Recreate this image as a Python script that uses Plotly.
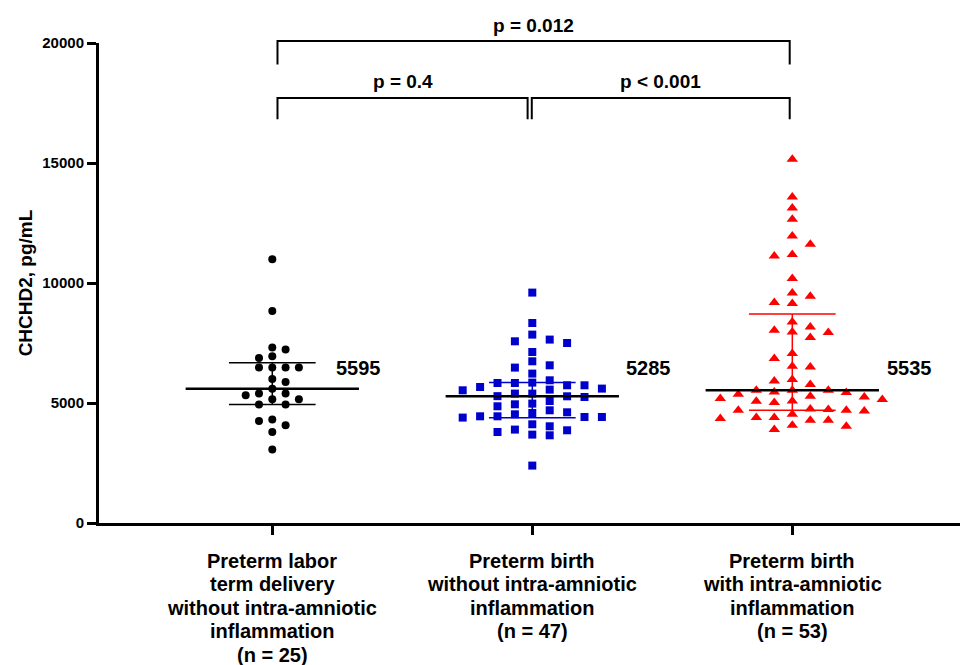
import numpy as np
import plotly.graph_objects as go

# ---------------- data ----------------
GROUP_LABELS = [
    "Preterm labor\nterm delivery\nwithout intra-amniotic\ninflammation\n(n = 25)",
    "Preterm birth\nwithout intra-amniotic\ninflammation\n(n = 47)",
    "Preterm birth\nwith intra-amniotic\ninflammation\n(n = 53)",
]

group1_values = [10988, 8833, 7308, 7225, 6946, 6875, 6475, 6475, 6475, 6475,
                 6000, 5875, 5595, 5392, 5392, 5321, 5154, 5154, 4933, 4933,
                 4308, 4250, 4071, 3792, 3058]

group2_values = [9600, 8333, 7850, 7642, 7571, 7500, 7125, 6738, 6571, 6475,
                 6225, 5946, 5850, 5833, 5833, 5738, 5738, 5667, 5600, 5558,
                 5529, 5392, 5392, 5285, 5279, 5250, 5083, 4975, 4946, 4863,
                 4696, 4613, 4583, 4529, 4446, 4446, 4417, 4417, 4392, 4113,
                 4029, 3892, 3863, 3792, 3683, 3654, 2392]

group3_values = [15154, 13583, 13125, 12654, 11958, 11613, 11183, 11125, 10183, 9583,
                 9446, 9183, 9142, 8375, 8167, 8029, 7958, 7933, 7725, 7058,
                 6850, 6529, 6500, 5975, 5917, 5767, 5535, 5535, 5535, 5458,
                 5433, 5363, 5279, 5250, 5183, 5142, 5083, 5071, 5017, 4750,
                 4725, 4696, 4696, 4667, 4529, 4392, 4392, 4350, 4279, 4279,
                 4071, 4029, 3892]

medians = [5595, 5285, 5535]
q1_values = [4933, 4390, 4700]
q3_values = [6680, 5850, 8710]
median_labels = ["5595", "5285", "5535"]

comparisons = [(0, 2), (0, 1), (1, 2)]
p_labels = ["p = 0.012", "p = 0.4", "p < 0.001"]

Y_TICKS = [0, 5000, 10000, 15000, 20000]
Y_TITLE = "CHCHD2, pg/mL"

# ---------------- layout constants ----------------
W, H = 960, 665
ML, MT, MB, MR = 99, 43, 142, 0
PLOT_H = H - MT - MB          # 480
YMAX = 20000
XR = [-0.6665, 2.645]
PX_X = (W - ML - MR) / (XR[1] - XR[0])
PX_Y = PLOT_H / YMAX

FONT = "Arial, Liberation Sans, Helvetica, sans-serif"
BLUE = "rgb(0,0,204)"
RED = "rgb(255,0,0)"


def swarm(values, col_px, min_dy_px):
    ypx = np.asarray(values, dtype=float) * PX_Y
    order = np.argsort(-ypx, kind="stable")
    cols = {}
    offs = np.zeros(len(ypx))
    for idx in order:
        y = ypx[idx]
        m = 0
        placed = False
        while not placed:
            if m == 0:
                cands = [0]
            else:
                cands = sorted([m, -m], key=lambda c: len(cols.get(c, [])))
            for c in cands:
                if all(abs(y - y2) >= min_dy_px for y2 in cols.get(c, [])):
                    cols.setdefault(c, []).append(y)
                    offs[idx] = c * col_px / PX_X
                    placed = True
                    break
            m += 1
    return offs


groups = [group1_values, group2_values, group3_values]
styles = [
    dict(symbol="circle", size=8, color="black", col=13.3, dy=8),
    dict(symbol="square", size=8, color=BLUE, col=17.4, dy=9),
    dict(symbol="triangle-up", size=10, color=RED, col=18, dy=10),
]
iqr_colors = ["black", BLUE, RED]

fig = go.Figure()

for i, (vals, st) in enumerate(zip(groups, styles)):
    xs = i + swarm(vals, st["col"], st["dy"])
    fig.add_trace(go.Scatter(
        x=xs, y=vals, mode="markers",
        marker=dict(symbol=st["symbol"], size=st["size"], color=st["color"],
                    line=dict(width=0)),
        showlegend=False, hoverinfo="y", cliponaxis=False,
    ))

for i in range(3):
    c = iqr_colors[i]
    # IQR whisker
    fig.add_trace(go.Scatter(
        x=[i - 1/6, i + 1/6, None, i - 1/6, i + 1/6, None, i, i],
        y=[q3_values[i], q3_values[i], None, q1_values[i], q1_values[i], None,
           q1_values[i], q3_values[i]],
        mode="lines", line=dict(color=c, width=1.5), showlegend=False, hoverinfo="skip",
    ))
    # median
    fig.add_trace(go.Scatter(
        x=[i - 1/3, i + 1/3], y=[medians[i], medians[i]],
        mode="lines", line=dict(color="black", width=2.5), showlegend=False, hoverinfo="skip",
    ))

# median value labels
label_dx = [0.238, 0.352, 0.358]
for i in range(3):
    fig.add_annotation(
        x=i + label_dx[i], y=6446, xref="x", yref="y", text=median_labels[i],
        showarrow=False, xanchor="left", yanchor="middle",
        font=dict(family=FONT, size=20, color="black", weight="bold"),
    )

# significance brackets (levels in data units above axis top)
bracket_levels = [(20083, 19100), (17708, 16820), (17708, 16820)]
bracket_ends = [(0.02, 1.99), (0.02, 0.982), (0.998, 1.99)]
text_levels = [20740, 18400, 18400]
for k, (a, b) in enumerate(comparisons):
    top, bot = bracket_levels[k]
    x0, x1 = bracket_ends[k]
    fig.add_shape(
        type="path", xref="x", yref="paper",
        path=f"M {x0},{bot/YMAX} L {x0},{top/YMAX} L {x1},{top/YMAX} L {x1},{bot/YMAX}",
        line=dict(color="black", width=2),
    )
    fig.add_annotation(
        x=(x0 + x1) / 2, y=text_levels[k] / YMAX, xref="x", yref="paper",
        text=p_labels[k], showarrow=False, xanchor="center", yanchor="middle",
        font=dict(family=FONT, size=19, color="black", weight="bold"),
    )

# category labels (one annotation per line for tight line spacing)
for i, lab in enumerate(GROUP_LABELS):
    for j, line in enumerate(lab.split("\n")):
        ypx = 37.5 + 23.6 * j
        fig.add_annotation(
            x=i, y=-ypx / PLOT_H, xref="x", yref="paper", text=line,
            showarrow=False, xanchor="center", yanchor="middle",
            font=dict(family=FONT, size=20, color="black", weight="bold"),
        )

fig.update_layout(
    width=W, height=H,
    margin=dict(l=ML, r=MR, t=MT, b=MB, pad=0),
    paper_bgcolor="white", plot_bgcolor="white",
    showlegend=False,
    xaxis=dict(
        range=XR, tickmode="array", tickvals=[0, 1, 2], ticktext=["", "", ""],
        showgrid=False, zeroline=False, showline=True, linecolor="black", linewidth=3,
        ticks="outside", ticklen=9, tickwidth=2.5, tickcolor="black",
        fixedrange=True,
    ),
    yaxis=dict(
        range=[0, YMAX], tickmode="array", tickvals=Y_TICKS,
        ticktext=[str(v) for v in Y_TICKS],
        showgrid=False, zeroline=False, showline=True, linecolor="black", linewidth=3,
        ticks="outside", ticklen=9, tickwidth=2.5, tickcolor="black",
        tickfont=dict(family=FONT, size=15, color="black", weight="bold"),
        title=dict(text=Y_TITLE, standoff=5,
                   font=dict(family=FONT, size=19, color="black", weight="bold")),
        fixedrange=True,
    ),
)

fig.write_html("out.html", config={"displayModeBar": False},
               post_script="document.body.style.margin='0';")
